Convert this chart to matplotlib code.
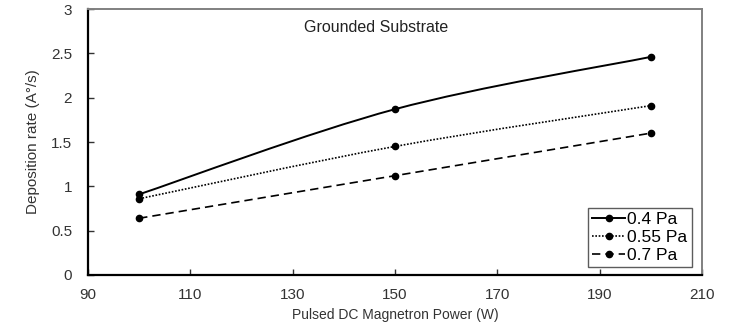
import numpy as np
import matplotlib.pyplot as plt
from matplotlib.path import Path
from matplotlib.patches import PathPatch

plt.rcParams['font.family'] = ['Liberation Sans', 'DejaVu Sans']

power = [100, 150, 200]
rate_04 = [0.91, 1.87, 2.46]
rate_055 = [0.86, 1.45, 1.91]
rate_07 = [0.64, 1.12, 1.60]
labels = ['0.4 Pa', '0.55 Pa', '0.7 Pa']
styles = ['-', (0, (1, 1)), (0, (5, 3))]


def smooth_path(x, y):
    # Excel-style smoothed line: cubic bezier with catmull-rom control points
    x = np.asarray(x, float)
    y = np.asarray(y, float)
    pts = np.column_stack([x, y])
    verts = [pts[0]]
    codes = [Path.MOVETO]
    n = len(pts)
    for i in range(n - 1):
        p0 = pts[i - 1] if i > 0 else pts[i]
        p1 = pts[i]
        p2 = pts[i + 1]
        p3 = pts[i + 2] if i + 2 < n else pts[i + 1]
        c1 = p1 + (p2 - p0) / 6.0
        c2 = p2 - (p3 - p1) / 6.0
        verts += [c1, c2, p2]
        codes += [Path.CURVE4] * 3
    return Path(verts, codes)


fig = plt.figure(figsize=(7.38, 3.29), dpi=100)
ax = fig.add_axes([88 / 738, 1 - 275 / 329, 614 / 738, 266 / 329])

handles = []
for ys, lab, ls in zip([rate_04, rate_055, rate_07], labels, styles):
    lw = 1.4 if ls == '-' else 1.2
    patch = PathPatch(smooth_path(power, ys), facecolor='none', edgecolor='black',
                      linewidth=lw, linestyle=ls)
    ax.add_patch(patch)
    ax.plot(power, ys, 'o', color='black', markersize=4.5)
    h, = ax.plot([], [], color='black', linestyle=ls, linewidth=lw, marker='o', markersize=4.5, label=lab)
    handles.append(h)

ax.set_xlim(90, 210)
ax.set_ylim(0, 3)
ax.set_xticks(np.arange(90, 211, 20))
ax.set_yticks(np.arange(0, 3.01, 0.5))
ax.set_yticklabels(['0', '0.5', '1', '1.5', '2', '2.5', '3'])
ax.tick_params(direction='in', length=4, width=1, labelsize=11, colors='#333333', labelcolor='#333333')
ax.tick_params(axis='x', pad=9.5)
ax.tick_params(axis='y', pad=11.5)
for s in ['left', 'bottom']:
    ax.spines[s].set_linewidth(1.6)
    ax.spines[s].set_color('black')
for s in ['top', 'right']:
    ax.spines[s].set_linewidth(1.4)
    ax.spines[s].set_color('#808080')

ax.set_xlabel('Pulsed DC Magnetron Power (W)', fontsize=10, color='#333333', labelpad=4)
ax.set_ylabel('Deposition rate (A\u00b0/s)', fontsize=11, color='#333333', labelpad=8)
ax.text(0.47, 0.93, 'Grounded Substrate', transform=ax.transAxes, ha='center', va='center',
        fontsize=11.5, color='#222222')

leg = ax.legend(handles=handles, loc='lower right', bbox_to_anchor=(0.983, 0.03),
                fontsize=12.5, frameon=True, fancybox=False, handlelength=1.9,
                handletextpad=0.1, labelspacing=0.15, borderpad=0.25, borderaxespad=0)
leg.get_frame().set_edgecolor('#333333')
leg.get_frame().set_linewidth(1.0)

fig.savefig('out.png', dpi=100)
